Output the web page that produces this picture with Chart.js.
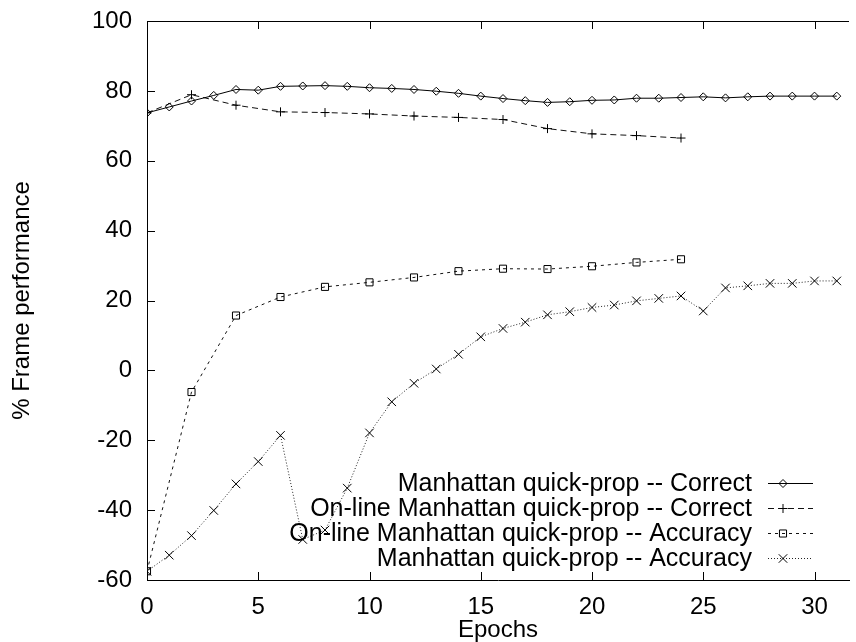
<!DOCTYPE html>
<html>
<head>
<meta charset="utf-8">
<script src="https://cdn.jsdelivr.net/npm/chart.js@4/dist/chart.umd.min.js"></script>
<style>
  html, body { margin: 0; padding: 0; background: #fff; overflow: hidden; }
  #wrap { width: 856px; height: 642px; }
</style>
</head>
<body>
<div id="wrap"><canvas id="chart" width="856" height="642"></canvas></div>
<script>
// === Data ===
const epochsAll = [0, 1, 2, 3, 4, 5, 6, 7, 8, 9, 10, 11, 12, 13, 14, 15,
  16, 17, 18, 19, 20, 21, 22, 23, 24, 25, 26, 27, 28, 29, 30, 31];
const epochsEven = [0, 2, 4, 6, 8, 10, 12, 14, 16, 18, 20, 22, 24];

const mqpCorrect = [73.7, 75.4, 77.1, 78.7, 80.4, 80.2, 81.3, 81.4, 81.5, 81.3, 80.9,
  80.7, 80.4, 79.9, 79.3, 78.5, 77.8, 77.2, 76.7, 76.9, 77.3, 77.4, 77.9, 77.9,
  78.1, 78.3, 78.0, 78.3, 78.5, 78.5, 78.5, 78.5];
const onlineCorrect = [73.7, 78.9, 75.9, 74.0, 73.8, 73.4, 72.8, 72.4, 71.8, 69.2,
  67.7, 67.2, 66.5];
const onlineAccuracy = [-57.5, -6.2, 15.7, 21.0, 23.9, 25.2, 26.6, 28.4, 29.1, 29.0,
  29.8, 30.9, 31.8];
const mqpAccuracy = [-57.5, -52.9, -47.3, -40.1, -32.5, -26.1, -18.6, -48.4, -45.7,
  -33.7, -17.9, -9.0, -3.7, 0.4, 4.6, 9.6, 12.0, 13.8, 15.9, 16.8, 18.0, 18.7, 19.9,
  20.6, 21.3, 17.0, 23.6, 24.2, 24.9, 24.9, 25.6, 25.6];

const xTicks = [0, 5, 10, 15, 20, 25, 30];
const yTicks = [-60, -40, -20, 0, 20, 40, 60, 80, 100];
const seriesLabels = [
  'Manhattan quick-prop -- Correct',
  'On-line Manhattan quick-prop -- Correct',
  'On-line Manhattan quick-prop -- Accuracy',
  'Manhattan quick-prop -- Accuracy'
];

const FONT = 'Liberation Sans, Arial, Helvetica, sans-serif';
const pts = (xs, ys) => xs.map((x, i) => ({ x, y: ys[i] }));

// === gnuplot-like frame: inward ticks, top border, legend ===
const framePlugin = {
  id: 'frame',
  afterDatasetsDraw(chart) {
    const { ctx, chartArea: a, scales: { x, y } } = chart;
    ctx.save();
    ctx.strokeStyle = '#000';
    ctx.lineWidth = 1;
    ctx.beginPath();
    ctx.moveTo(a.left, a.top + 0.5);
    ctx.lineTo(a.right, a.top + 0.5);
    xTicks.forEach(v => {
      const px = Math.round(x.getPixelForValue(v)) + 0.5;
      ctx.moveTo(px, a.bottom); ctx.lineTo(px, a.bottom - 8);
      ctx.moveTo(px, a.top); ctx.lineTo(px, a.top + 8);
    });
    yTicks.forEach(v => {
      const py = Math.round(y.getPixelForValue(v)) + 0.5;
      ctx.moveTo(a.left, py); ctx.lineTo(a.left + 8, py);
    });
    ctx.stroke();

    // legend: right-aligned text, sample line to the right
    const rowsY = [483, 508, 533, 558];
    ctx.textAlign = 'right';
    ctx.textBaseline = 'middle';
    chart.data.datasets.forEach((ds, i) => {
      const ry = rowsY[i];
      ctx.font = '25px ' + FONT;
      ctx.fillStyle = '#000';
      ctx.fillText(ds.label, 752, ry + 1);
      ctx.strokeStyle = ds.borderColor;
      ctx.lineWidth = 1;
      ctx.setLineDash(ds.borderDash || []);
      ctx.beginPath();
      ctx.moveTo(768, ry + 0.5);
      ctx.lineTo(813, ry + 0.5);
      ctx.stroke();
      ctx.setLineDash([]);
      ctx.strokeStyle = '#000';
      ctx.fillStyle = 'rgba(0,0,0,0)';
      Chart.helpers.drawPoint(ctx, {
        pointStyle: ds.pointStyle, radius: ds.pointRadius,
        borderWidth: 1
      }, 783, ry + 0.5);
    });
    ctx.restore();
  }
};

const common = { fill: false, tension: 0, borderWidth: 1, backgroundColor: 'rgba(0,0,0,0)',
  pointBorderColor: '#000', pointBackgroundColor: 'rgba(0,0,0,0)', pointBorderWidth: 1 };

new Chart(document.getElementById('chart'), {
  type: 'line',
  data: {
    datasets: [
      { ...common, label: seriesLabels[0], data: pts(epochsAll, mqpCorrect),
        borderColor: '#000', pointStyle: 'rectRot', pointRadius: 4 },
      { ...common, label: seriesLabels[1], data: pts(epochsEven, onlineCorrect),
        borderColor: '#111', borderDash: [6, 4], pointStyle: 'cross', pointRadius: 4.5 },
      { ...common, label: seriesLabels[2], data: pts(epochsEven, onlineAccuracy),
        borderColor: '#111', borderDash: [3, 4], pointStyle: 'rect', pointRadius: 5 },
      { ...common, label: seriesLabels[3], data: pts(epochsAll, mqpAccuracy),
        borderColor: '#222', borderDash: [1, 2], pointStyle: 'crossRot', pointRadius: 6 }
    ]
  },
  options: {
    responsive: false,
    animation: false,
    layout: { padding: { left: 0, top: 21, right: 0, bottom: 0 } },
    plugins: { legend: { display: false }, tooltip: { enabled: false } },
    scales: {
      x: {
        type: 'linear', min: 0, max: 31.55,
        afterBuildTicks: s => { s.ticks = xTicks.map(v => ({ value: v })); },
        afterFit: s => { s.height = 62; },
        grid: { display: false, drawTicks: false },
        border: { display: true, color: '#000', width: 1 },
        ticks: { color: '#000', padding: 13, font: { family: FONT, size: 24 } },
        title: { display: true, text: 'Epochs', color: '#000', padding: { top: 0, bottom: -3 },
          font: { family: FONT, size: 24, lineHeight: 1.2 } }
      },
      y: {
        min: -60, max: 100,
        afterBuildTicks: s => { s.ticks = yTicks.map(v => ({ value: v })); },
        afterFit: s => { s.width = 147; s.paddingTop = 0; s.paddingBottom = 0; },
        grid: { display: false, drawTicks: false },
        border: { display: true, color: '#000', width: 1 },
        ticks: { color: '#000', padding: 15, font: { family: FONT, size: 24, lineHeight: 0.5 } },
        title: { display: true, text: '% Frame performance', color: '#000',
          padding: { top: 8, bottom: 0 }, font: { family: FONT, size: 24, lineHeight: 1.2 } }
      }
    }
  },
  plugins: [framePlugin]
});
</script>
</body>
</html>
